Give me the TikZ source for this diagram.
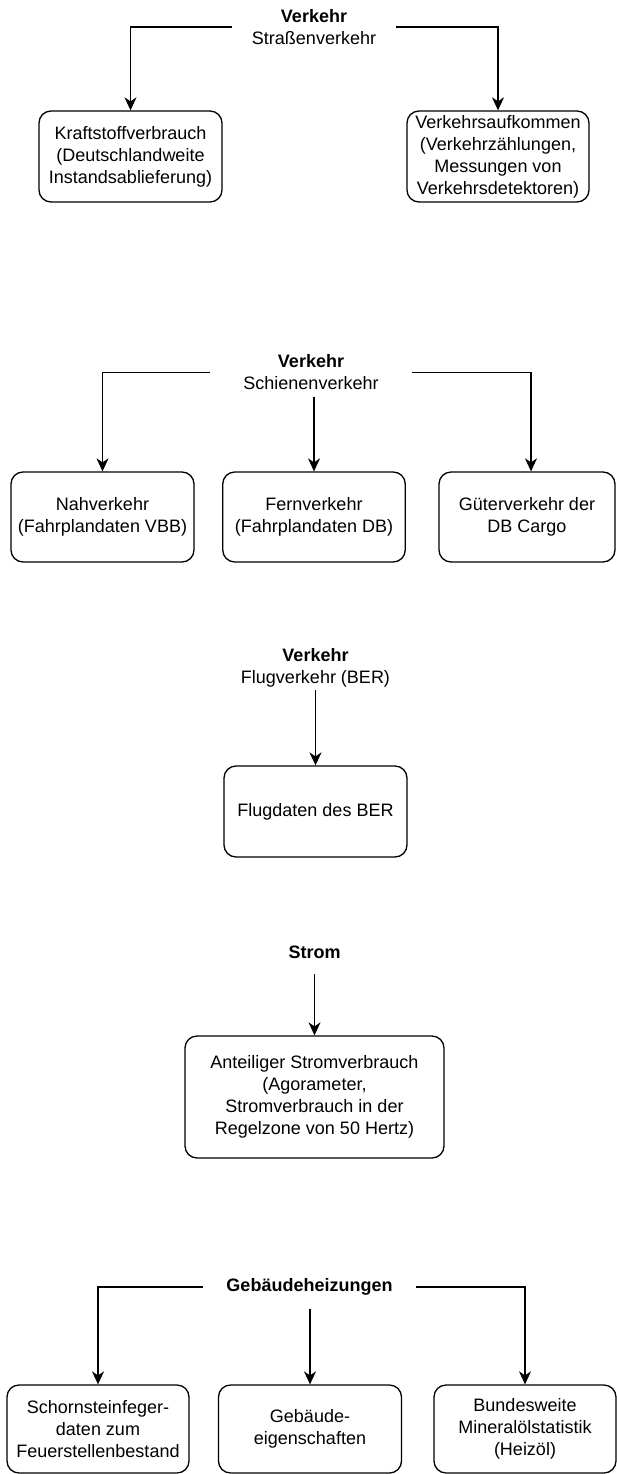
\documentclass[tikz,border=0pt]{standalone}
\usepackage{fontspec}
\setmainfont{Liberation Sans}
\usetikzlibrary{arrows.meta}
\tikzset{
  box/.style={draw, line width=1.3pt, rounded corners=12pt, align=center, inner sep=0pt,
    font=\fontsize{18}{22}\selectfont},
  head/.style={align=center, inner sep=0pt, font=\fontsize{18}{22}\selectfont},
  arr/.style={line width=1.3pt, -{Stealth[length=13pt,width=12pt,inset=4pt]}},
}
\begin{document}
\begin{tikzpicture}[x=1pt,y=-1pt]
\useasboundingbox[fill=white] (0,0) rectangle (617,1474);

% Section 1: Strassenverkehr
\node[head, minimum width=164pt, minimum height=46pt] (h1) at (314,27) {\textbf{Verkehr}\\Straßenverkehr};
\node[box, minimum width=183pt, minimum height=91pt] (k1) at (130.5,156.5) {Kraftstoffverbrauch\\(Deutschlandweite\\Instandsablieferung)};
\node[box, minimum width=182pt, minimum height=91pt] (k2) at (498,156.5) {Verkehrsaufkommen\\(Verkehrzählungen,\\Messungen von\\Verkehrsdetektoren)};
\draw[arr] (h1.west) -| (k1.north);
\draw[arr] (h1.east) -| (k2.north);

% Section 2: Schienenverkehr
\node[head, minimum width=202pt, minimum height=48pt] (h2) at (311,372.5) {\textbf{Verkehr}\\Schienenverkehr};
\node[box, minimum width=183pt, minimum height=90pt] (s2a) at (102.5,517) {Nahverkehr\\(Fahrplandaten VBB)};
\node[box, minimum width=182.5pt, minimum height=90pt] (s2b) at (314,517) {Fernverkehr\\(Fahrplandaten DB)};
\node[box, minimum width=176pt, minimum height=90pt] (s2c) at (527,517) {Güterverkehr der\\DB Cargo};
\draw[arr] (h2.west) -| (s2a.north);
\draw[arr] (h2.south -| s2b.north) -- (s2b.north);
\draw[arr] (h2.east) -| ([xshift=4pt]s2c.north);

% Section 3: Flugverkehr
\node[head, minimum height=45pt] (h3) at (315.5,667.5) {\textbf{Verkehr}\\Flugverkehr (BER)};
\node[box, minimum width=183pt, minimum height=91pt] (f1) at (315.5,811.5) {Flugdaten des BER};
\draw[arr] (h3.south) -- (f1.north);

% Section 4: Strom
\node[head, minimum height=44pt] (h4) at (314.5,952) {\textbf{Strom}};
\node[box, minimum width=259pt, minimum height=122pt] (st) at (314.5,1097) {Anteiliger Stromverbrauch\\(Agorameter,\\Stromverbrauch in der\\Regelzone von 50 Hertz)};
\draw[arr] (h4.south) -- (st.north);

% Section 5: Gebaeudeheizungen
\node[head, minimum width=213pt, minimum height=44pt] (h5) at (309.5,1287) {\textbf{Gebäudeheizungen}};
\node[box, minimum width=182pt, minimum height=88pt] (g1) at (98,1429) {Schornsteinfeger-\\daten zum\\Feuerstellenbestand};
\node[box, minimum width=183pt, minimum height=88pt] (g2) at (310,1429) {Gebäude-\\eigenschaften};
\node[box, minimum width=182pt, minimum height=88pt] (g3) at (525,1429) {Bundesweite\\Mineralölstatistik\\(Heizöl)};
\draw[arr] (h5.west) -| (g1.north);
\draw[arr] (h5.south -| g2.north) -- (g2.north);
\draw[arr] (h5.east) -| (g3.north);
\end{tikzpicture}
\end{document}
